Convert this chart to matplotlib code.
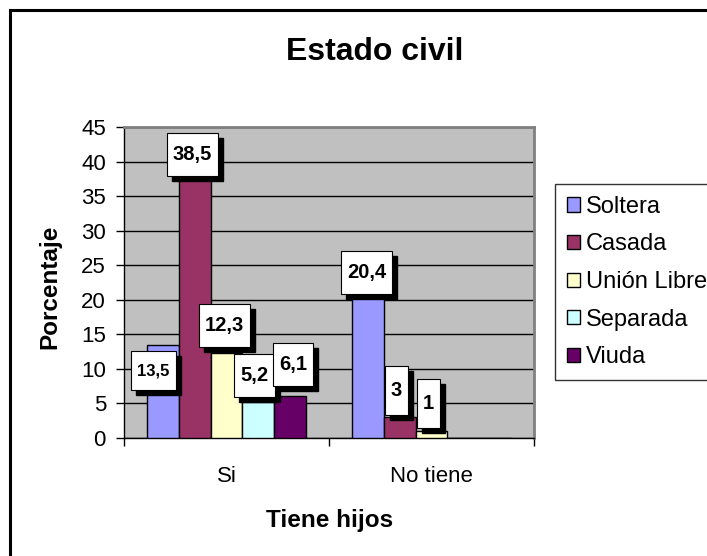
import matplotlib.pyplot as plt
from matplotlib.patches import Rectangle, Patch
from matplotlib.lines import Line2D
import numpy as np

plt.rcParams['font.family'] = ['Liberation Sans', 'DejaVu Sans']

categories = ['Si', 'No tiene']
series = ['Soltera', 'Casada', 'Unión Libre', 'Separada', 'Viuda']
values = {
    'Soltera': [13.5, 20.4],
    'Casada': [38.5, 3],
    'Unión Libre': [12.3, 1],
    'Separada': [5.2, 0],
    'Viuda': [6.1, 0],
}
label_text = {
    'Soltera': ['13,5', '20,4'],
    'Casada': ['38,5', '3'],
    'Unión Libre': ['12,3', '1'],
    'Separada': ['5,2', ''],
    'Viuda': ['6,1', ''],
}
colors = ['#9999FF', '#993366', '#FFFFCC', '#CCFFFF', '#660066']

# label offsets (pixels) from bar top centre, as placed in the original
label_dx = {'Soltera': [-9, -1], 'Casada': [-2, -3], 'Unión Libre': [-2, -3],
            'Separada': [-4, 0], 'Viuda': [3, 0]}
label_dy = {'Soltera': [-26, 25], 'Casada': [17, 27], 'Unión Libre': [27, 28],
            'Separada': [27, 0], 'Viuda': [31, 0]}

W, H = 707, 556
fig = plt.figure(figsize=(W / 100, H / 100), dpi=100)
fig.patch.set_facecolor('white')

# outer frame (only top and left visible)
fig.add_artist(Line2D([10 / W, 10 / W], [0, 1 - 10 / H], color='black', lw=2.2, transform=fig.transFigure))
fig.add_artist(Line2D([10 / W, 1], [1 - 10 / H, 1 - 10 / H], color='black', lw=2.2, transform=fig.transFigure))

ax = fig.add_axes([124 / W, (H - 438) / H, 410 / W, 311 / H])
ax.set_facecolor('#C0C0C0')

x = np.arange(len(categories))
bw = 0.156
bars = {}
for i, s in enumerate(series):
    pos = x - 2 * bw + i * bw
    bars[s] = ax.bar(pos, values[s], width=bw, color=colors[i], edgecolor='black', linewidth=1, zorder=3)

ax.set_xlim(-0.5, 1.5)
ax.set_ylim(0, 45)
ax.set_yticks(range(0, 46, 5))
ax.yaxis.grid(True, color='black', linewidth=1, zorder=1)
ax.set_axisbelow(True)
ax.set_xticks([-0.5, 0.5, 1.5])
ax.set_xticklabels([])
ax.set_xticks(x, minor=True)
ax.set_xticklabels(categories, minor=True, fontsize=16)
ax.tick_params(axis='x', which='minor', length=0, pad=20)
ax.tick_params(axis='x', which='major', length=6, width=1, direction='out')
ax.tick_params(axis='y', length=6, width=1, direction='out', labelsize=16, pad=7)

for side in ['top', 'right']:
    ax.spines[side].set_color('#808080')
    ax.spines[side].set_linewidth(2)
for side in ['left', 'bottom']:
    ax.spines[side].set_color('black')
    ax.spines[side].set_linewidth(1)

fig.text(375 / W, 1 - 52 / H, 'Estado civil', ha='center', va='center', fontsize=23, fontweight='bold')
fig.text(50 / W, 1 - 287 / H, 'Porcentaje', ha='center', va='center', rotation=90, fontsize=17.5, fontweight='bold')
fig.text(330 / W, 1 - 521 / H, 'Tiene hijos', ha='center', va='center', fontsize=17.5, fontweight='bold')

# data labels: white box with black drop shadow
to_fig = fig.transFigure.inverted()
texts = []
for i, s in enumerate(series):
    for j, rect in enumerate(bars[s]):
        if not label_text[s][j]:
            continue
        cx = rect.get_x() + rect.get_width() / 2
        px, py = ax.transData.transform((cx, rect.get_height()))
        fx, fy = to_fig.transform((px + label_dx[s][j], py + label_dy[s][j]))
        fs = 12 if label_text[s][j] == '13,5' else 14.5
        t = fig.text(fx, fy, label_text[s][j], ha='center', va='center',
                     fontsize=fs, fontweight='bold', zorder=12)
        texts.append(t)

fig.canvas.draw()
renderer = fig.canvas.get_renderer()
for t in texts:
    bb = t.get_window_extent(renderer)
    padx = 6
    pady = 12 if len(t.get_text()) > 1 else 15
    x0, y0 = bb.x0 - padx, bb.y0 - pady
    w, h = bb.width + 2 * padx, bb.height + 2 * pady
    fig.add_artist(Rectangle((x0 + 5, y0 - 5), w, h, transform=None, facecolor='black',
                             edgecolor='black', zorder=8))
    fig.add_artist(Rectangle((x0, y0), w, h, transform=None, facecolor='white',
                             edgecolor='black', linewidth=0.8, zorder=9))

handles = [Patch(facecolor=c, edgecolor='black', linewidth=1) for c in colors]
fig.legend(handles, series, loc='upper left', bbox_to_anchor=(555 / W, 1 - 184 / H),
           frameon=True, fancybox=False, edgecolor='black', fontsize=17,
           handlelength=0.55, handleheight=0.55, handletextpad=0.25,
           labelspacing=0.66, borderpad=0.5, borderaxespad=0)

fig.savefig('out.png', dpi=100)
